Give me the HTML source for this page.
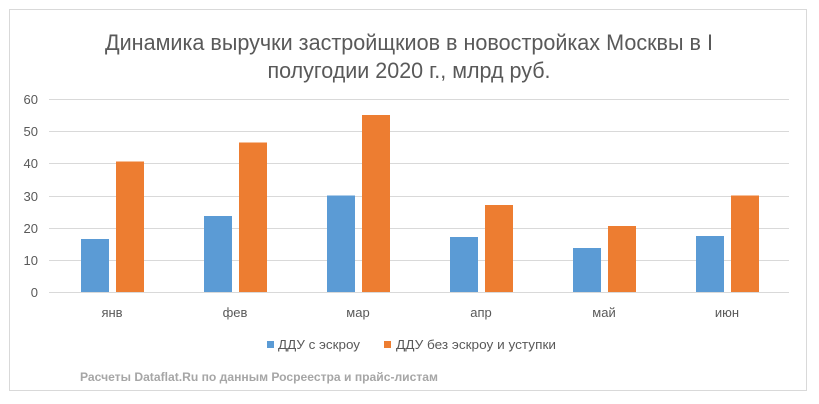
<!DOCTYPE html>
<html><head><meta charset="utf-8"><style>
html,body{margin:0;padding:0;background:#fff;}
svg{display:block;font-family:"Liberation Sans","DejaVu Sans",sans-serif;}
</style></head><body>
<svg width="819" height="404" viewBox="0 0 819 404">
<rect x="9.5" y="9.5" width="797" height="381" fill="#fff" stroke="#d9d9d9"/>
<text x="409" y="50" font-size="22" fill="#595959" text-anchor="middle" textLength="608" lengthAdjust="spacingAndGlyphs">Динамика выручки застройщкиов в новостройках Москвы в I</text>
<text x="409" y="78" font-size="22" fill="#595959" text-anchor="middle" textLength="283" lengthAdjust="spacingAndGlyphs">полугодии 2020 г., млрд руб.</text>
<g stroke="#d9d9d9" stroke-width="1">
<line x1="49" x2="789" y1="99.5" y2="99.5"/>
<line x1="49" x2="789" y1="131.5" y2="131.5"/>
<line x1="49" x2="789" y1="163.5" y2="163.5"/>
<line x1="49" x2="789" y1="196.5" y2="196.5"/>
<line x1="49" x2="789" y1="228.5" y2="228.5"/>
<line x1="49" x2="789" y1="260.5" y2="260.5"/>
<line x1="49" x2="789" y1="292.5" y2="292.5"/>
</g>
<g font-size="13" fill="#595959" text-anchor="end">
<text x="38" y="104">60</text><text x="38" y="136">50</text><text x="38" y="168">40</text>
<text x="38" y="201">30</text><text x="38" y="233">20</text><text x="38" y="265">10</text><text x="38" y="297">0</text>
</g>
<g fill="#5b9bd5">
<rect x="81" y="239" width="28" height="53"/>
<rect x="204" y="216" width="28" height="76"/>
<rect x="327" y="195.5" width="28" height="96.5"/>
<rect x="450" y="237" width="28" height="55"/>
<rect x="573" y="248" width="28" height="44"/>
<rect x="696" y="236" width="28" height="56"/>
</g>
<g fill="#ed7d31">
<rect x="116" y="161.5" width="28" height="130.5"/>
<rect x="239" y="142.5" width="28" height="149.5"/>
<rect x="362" y="115" width="28" height="177"/>
<rect x="485" y="205" width="28" height="87"/>
<rect x="608" y="226" width="28" height="66"/>
<rect x="731" y="195.5" width="28" height="96.5"/>
</g>
<g font-size="13" fill="#595959" text-anchor="middle">
<text x="112" y="317">янв</text><text x="235" y="317">фев</text><text x="358" y="317">мар</text>
<text x="481" y="317">апр</text><text x="604" y="317">май</text><text x="727" y="317">июн</text>
</g>
<rect x="267" y="341" width="7" height="7" fill="#5b9bd5"/>
<text x="278" y="349" font-size="13" fill="#595959" textLength="82" lengthAdjust="spacingAndGlyphs">ДДУ с эскроу</text>
<rect x="384" y="341" width="7" height="7" fill="#ed7d31"/>
<text x="396" y="349" font-size="13" fill="#595959" textLength="160" lengthAdjust="spacingAndGlyphs">ДДУ без эскроу и уступки</text>
<text x="80" y="381" font-size="12" font-weight="bold" fill="#a6a6a6" textLength="358" lengthAdjust="spacingAndGlyphs">Расчеты Dataflat.Ru по данным Росреестра и прайс-листам</text>
</svg>
</body></html>
